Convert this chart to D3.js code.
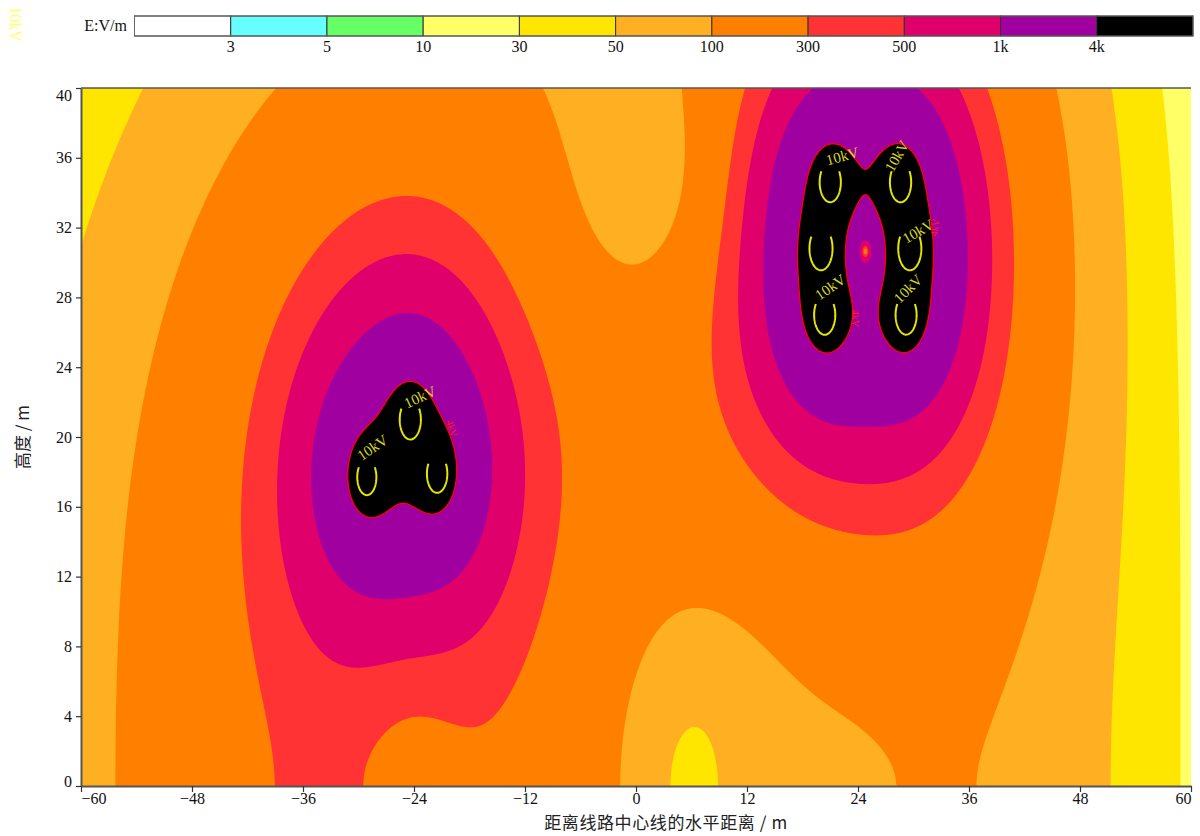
<!DOCTYPE html>
<html><head><meta charset="utf-8">
<script src="https://cdn.jsdelivr.net/npm/d3@7"></script>
<style>body{margin:0;background:#fff;} svg{display:block;}</style>
</head><body>
<svg id="chart" width="1200" height="836"></svg>
<script>
// ---------- data ----------
const levelBreaks = [3, 5, 10, 30, 50, 100, 300, 500, 1000, 4000];
const levelLabels = ["3", "5", "10", "30", "50", "100", "300", "500", "1k", "4k"];
const levelColors = ["#ffffff", "#66ffff", "#66ff66", "#ffff66", "#ffe600", "#ffb022",
                     "#ff8000", "#ff3333", "#e0006b", "#a0009f", "#000000"];
const xTicks = [-60, -48, -36, -24, -12, 0, 12, 24, 36, 48, 60];
const yTicks = [0, 4, 8, 12, 16, 20, 24, 28, 32, 36, 40];
// conductors: position (m), phase angle (deg), voltage (kV), equivalent radius (m)
const condX = [21.0, 28.6, 20.0, 29.6, 20.4, 29.2, -24.4, -29.1, -21.5];
const condY = [34.6, 34.6, 30.8, 30.8, 27.0, 27.0, 21.0, 17.7, 17.9];
const condPhase = [0, 120, 240, 240, 120, 0, 235, 115, 355];
const condVoltage = [43.5, 43.5, 43.5, 43.5, 43.5, 43.5, 43.5, 43.5, 43.5];
const condRadius = [0.1, 0.1, 0.1, 0.1, 0.1, 0.1, 0.1, 0.1, 0.1];
const loopLevel = 10000; // V/m
// contour labels
const kvLabelX = [-23.35, -28.5, 22.3, 28.2, 30.5, 21.0, 29.4];
const kvLabelY = [22.3, 19.4, 36.1, 36.1, 31.8, 28.6, 28.5];
const kvLabelRot = [-25, -35, -15, -60, -30, -35, -45];
const redLabelX = [-19.9, 23.7, 32.3];
const redLabelY = [20.5, 26.8, 32.0];
const redLabelRot = [70, 90, -80];

// ---------- layout ----------
const L = 81, R = 1191, T = 88, B = 786;
const svg = d3.select("#chart");
const x = d3.scaleLinear().domain([-60, 60]).range([L, R]);
const y = d3.scaleLinear().domain([0, 40]).range([B, T]);

// ---------- charges from potential coefficients ----------
function solve(A, b) {
  const n = b.length, M = A.map((r, i) => [...r, b[i]]);
  for (let c = 0; c < n; c++) {
    let p = c;
    for (let r = c + 1; r < n; r++) if (Math.abs(M[r][c]) > Math.abs(M[p][c])) p = r;
    [M[c], M[p]] = [M[p], M[c]];
    for (let r = 0; r < n; r++) if (r !== c) {
      const f = M[r][c] / M[c][c];
      for (let k = c; k <= n; k++) M[r][k] -= f * M[c][k];
    }
  }
  return M.map((r, i) => r[n] / r[i]);
}
const nC = condX.length, P = [];
for (let i = 0; i < nC; i++) {
  P.push([]);
  for (let j = 0; j < nC; j++) {
    if (i === j) P[i].push(Math.log(2 * condY[i] / condRadius[i]));
    else {
      const dx = condX[i] - condX[j];
      P[i].push(Math.log(Math.hypot(dx, condY[i] + condY[j]) / Math.hypot(dx, condY[i] - condY[j])));
    }
  }
}
const rad = condPhase.map(d => d * Math.PI / 180);
const qRe = solve(P, rad.map((p, k) => condVoltage[k] * Math.cos(p)));
const qIm = solve(P, rad.map((p, k) => condVoltage[k] * Math.sin(p)));
const qAbs = qRe.map((v, k) => Math.hypot(v, qIm[k]));

function field(px, py) {
  let exr = 0, exi = 0, eyr = 0, eyi = 0;
  for (let k = 0; k < nC; k++) {
    const dx = px - condX[k], dy = py - condY[k], d2 = dx * dx + dy * dy + 1e-6;
    const dyi = py + condY[k], d2i = dx * dx + dyi * dyi;
    const gx = dx / d2 - dx / d2i, gy = dy / d2 - dyi / d2i;
    const qr = qRe[k] * 1000, qi = qIm[k] * 1000;
    exr += qr * gx; exi += qi * gx; eyr += qr * gy; eyi += qi * gy;
  }
  return Math.sqrt(exr * exr + exi * exi + eyr * eyr + eyi * eyi);
}
const step = 2;
const nx = Math.ceil((R - L) / step), ny = Math.ceil((B - T) / step);
const values = new Float64Array(nx * ny);
for (let j = 0; j < ny; j++) {
  const yd = y.invert(T + (j + 0.5) * step);
  for (let i = 0; i < nx; i++) {
    const xd = x.invert(L + (i + 0.5) * step);
    values[j * nx + i] = Math.log10(Math.max(field(xd, yd), 1e-3));
  }
}
const contours = d3.contours().size([nx, ny]).thresholds(levelBreaks.map(v => Math.log10(v)))(values);
const path = d3.geoPath(d3.geoIdentity().scale(step).translate([L, T]));

svg.append("defs").append("clipPath").attr("id", "plotclip")
  .append("rect").attr("x", L).attr("y", T).attr("width", R - L).attr("height", B - T);
const plot = svg.append("g").attr("clip-path", "url(#plotclip)");
plot.append("rect").attr("x", L).attr("y", T).attr("width", R - L).attr("height", B - T)
  .attr("fill", levelColors[0]);
plot.selectAll("path.band").data(contours).join("path").attr("class", "band")
  .attr("d", path).attr("fill", (d, i) => levelColors[i + 1]);
plot.append("path").attr("d", path(contours[9])).attr("fill", "none")
  .attr("stroke", "#ff0000").attr("stroke-width", 1.3);

// ---------- 10 kV loops: contour of each conductor's own field (U shaped) ----------
const loopLine = d3.line();
condX.forEach((cx0, k) => {
  const win = 1.8;
  const x0 = x(cx0 - win), x1 = x(cx0 + win), y0 = y(condY[k] + win), y1 = y(condY[k] - win);
  const wn = Math.ceil(x1 - x0), hn = Math.ceil(y1 - y0);
  const vals = new Float64Array(wn * hn);
  for (let j = 0; j < hn; j++) {
    const yd = y.invert(y0 + j + 0.5);
    for (let i = 0; i < wn; i++) {
      const xd = x.invert(x0 + i + 0.5);
      vals[j * wn + i] = qAbs[k] * 1000 / Math.max(Math.hypot(xd - cx0, yd - condY[k]), 1e-3);
    }
  }
  const c = d3.contours().size([wn, hn]).thresholds([loopLevel])(vals)[0];
  c.coordinates.forEach(poly => {
    const pts = poly[0].map(p => [x0 + p[0], y0 + p[1]]);
    const ymin = d3.min(pts, p => p[1]), ymax = d3.max(pts, p => p[1]);
    const cut = ymin + 0.22 * (ymax - ymin);
    const keep = pts.map(p => p[1] >= cut);
    const start = keep.indexOf(false);
    const segs = [];
    if (start < 0) segs.push(pts);
    else {
      let cur = [];
      for (let s = 0; s < pts.length; s++) {
        const idx = (start + s) % pts.length;
        if (keep[idx]) cur.push(pts[idx]);
        else { if (cur.length > 1) segs.push(cur); cur = []; }
      }
      if (cur.length > 1) segs.push(cur);
    }
    segs.forEach(sg => plot.append("path").attr("d", loopLine(sg)).attr("fill", "none")
      .attr("stroke", "#e6e600").attr("stroke-width", 2));
  });
});
kvLabelX.forEach((v, i) => {
  plot.append("text").attr("transform", `translate(${x(v)},${y(kvLabelY[i])}) rotate(${kvLabelRot[i]})`)
    .attr("text-anchor", "middle").attr("dy", "0.35em")
    .style("font", "15px 'Liberation Serif', serif").attr("fill", "#d8d820").text("10kV");
});
redLabelX.forEach((v, i) => {
  plot.append("text").attr("transform", `translate(${x(v)},${y(redLabelY[i])}) rotate(${redLabelRot[i]})`)
    .attr("text-anchor", "middle").attr("dy", "0.35em")
    .style("font", "10px 'Liberation Serif', serif").attr("fill", "#ff2020").text("4kV");
});

// ---------- axes ----------
const fmt = d => d < 0 ? "\u2212" + Math.abs(d) : String(d);
const gx = svg.append("g").attr("transform", `translate(0,${B})`)
  .call(d3.axisBottom(x).tickValues(xTicks).tickSize(6).tickSizeOuter(0).tickPadding(1).tickFormat(fmt));
const gy = svg.append("g").attr("transform", `translate(${L},0)`)
  .call(d3.axisLeft(y).tickValues(yTicks).tickSize(5).tickSizeOuter(0).tickPadding(4).tickFormat(fmt));
[gx, gy].forEach(g => {
  g.select(".domain").attr("stroke", "#555").attr("stroke-width", 2);
  g.selectAll(".tick line").attr("stroke", "#333").attr("stroke-width", 1.2);
  g.selectAll(".tick text").style("font", "16px 'Liberation Serif', serif").attr("fill", "#111");
});
gx.selectAll(".tick text").filter(d => d === -60).attr("text-anchor", "start").attr("x", 0);
gx.selectAll(".tick text").filter(d => d === 60).attr("text-anchor", "end").attr("x", 0);
gy.selectAll(".tick text").filter(d => d === 40).attr("dy", "0.8em");
gy.selectAll(".tick text").filter(d => d === 0).attr("dy", "0");
svg.append("line").attr("x1", L).attr("x2", R).attr("y1", T).attr("y2", T)
  .attr("stroke", "#555").attr("stroke-width", 1.5);

svg.append("text").attr("x", 666).attr("y", 829).attr("text-anchor", "middle")
  .style("font", "17px 'Noto Sans CJK SC', sans-serif").style("letter-spacing", "0.6px").attr("fill", "#222")
  .text("距离线路中心线的水平距离 / m");
svg.append("text").attr("transform", "translate(29,437) rotate(-90)").attr("text-anchor", "middle")
  .style("font", "17px 'Noto Sans CJK SC', sans-serif").attr("fill", "#222")
  .text("高度 / m");

// ---------- colour bar ----------
const cb = d3.scaleBand().domain(d3.range(levelColors.length)).range([134.5, 1193]);
const cbY = 16, cbH = 20;
svg.append("g").selectAll("rect").data(levelColors).join("rect")
  .attr("x", (d, i) => cb(i)).attr("y", cbY).attr("width", cb.bandwidth()).attr("height", cbH)
  .attr("fill", d => d).attr("stroke", "#333").attr("stroke-width", 1);
svg.append("rect").attr("x", 134.5).attr("y", cbY).attr("width", 1193 - 134.5).attr("height", cbH)
  .attr("fill", "none").attr("stroke", "#666").attr("stroke-width", 1);
svg.append("g").selectAll("text").data(levelLabels).join("text")
  .attr("x", (d, i) => cb(i + 1)).attr("y", 52).attr("text-anchor", "middle")
  .style("font", "16px 'Liberation Serif', serif").attr("fill", "#111").text(d => d);
svg.append("text").attr("x", 127).attr("y", 31).attr("text-anchor", "end")
  .style("font", "16px 'Liberation Serif', serif").attr("fill", "#111").text("E:V/m");
svg.append("text").attr("transform", "translate(10,24) rotate(90)").attr("text-anchor", "middle")
  .style("font", "16px 'Liberation Serif', serif").attr("fill", "#ffff66").text("10kV");
</script>
</body></html>
